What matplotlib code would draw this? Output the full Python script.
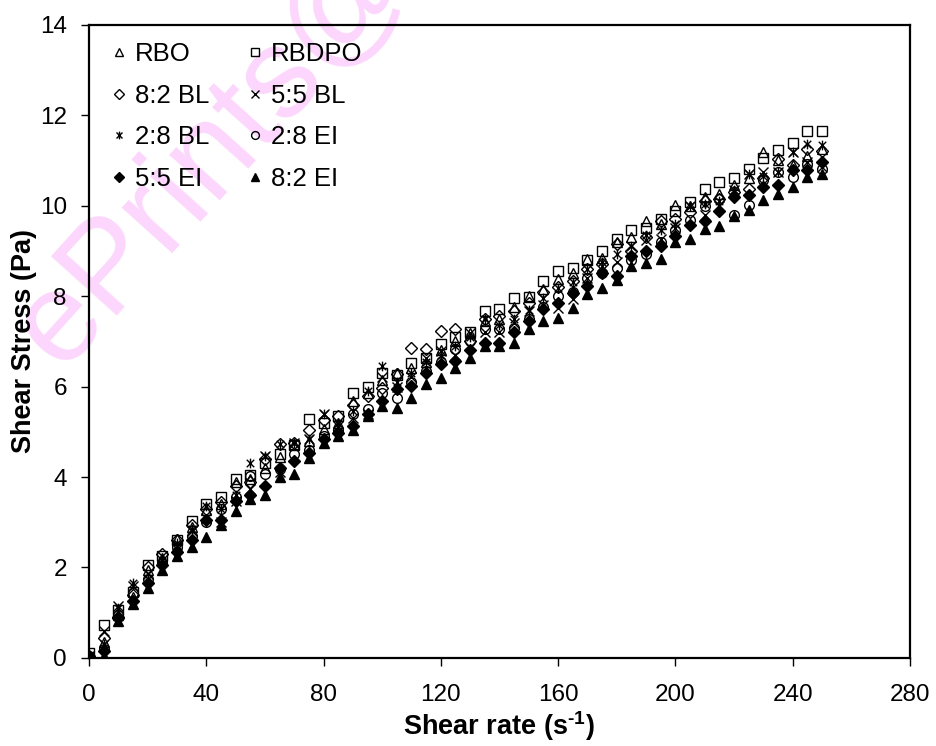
import matplotlib
matplotlib.use('Agg')
import matplotlib.pyplot as plt
from matplotlib.path import Path

plt.rcParams['font.family'] = ['Liberation Sans', 'DejaVu Sans']
plt.rcParams['mathtext.fontset'] = 'custom'
plt.rcParams['mathtext.rm'] = 'Liberation Sans:bold'
plt.rcParams['mathtext.bf'] = 'Liberation Sans:bold'

# shear rate (s^-1)
rate = list(range(0, 255, 5))

# shear stress (Pa)
rbo = [0.05, 0.35, 0.95, 1.35, 1.95, 2.2, 2.64, 2.9, 3.26, 3.4, 3.88, 3.95, 4.2, 4.45, 4.72, 4.8, 5.07,
       5.2, 5.68, 5.85, 6.15, 6.3, 6.4, 6.55, 6.8, 7.0, 7.18, 7.45, 7.5, 7.75, 8.0, 8.15, 8.37, 8.5,
       8.82, 8.85, 9.2, 9.3, 9.65, 9.6, 10.02, 10.0, 10.2, 10.26, 10.45, 10.6, 11.19, 11.0, 10.9, 11.1, 11.25]
rbdpo = [0.1, 0.73, 1.05, 1.45, 2.05, 2.25, 2.6, 3.02, 3.4, 3.55, 3.95, 4.05, 4.3, 4.5, 4.7, 5.28, 5.2,
         5.35, 5.86, 6.0, 6.3, 6.25, 6.52, 6.63, 6.94, 7.1, 7.2, 7.67, 7.72, 7.95, 7.98, 8.33, 8.55, 8.62,
         8.8, 8.99, 9.27, 9.47, 9.5, 9.7, 9.87, 10.09, 10.37, 10.53, 10.6, 10.81, 11.06, 11.23, 11.39, 11.65, 11.65]
bl_82 = [0.05, 0.45, 0.9, 1.4, 2.0, 2.3, 2.6, 2.95, 3.3, 3.45, 3.8, 3.9, 4.4, 4.73, 4.75, 5.05, 5.25,
         5.35, 5.6, 5.8, 5.97, 6.28, 6.85, 6.83, 7.22, 7.27, 7.0, 7.49, 7.56, 7.67, 7.84, 8.1, 8.2, 8.33,
         8.6, 8.7, 9.14, 9.0, 9.3, 9.65, 9.7, 9.85, 10.1, 10.15, 10.3, 10.37, 10.6, 11.04, 10.9, 11.26, 11.2]
bl_55 = [0.05, 0.6, 1.15, 1.6, 1.85, 2.25, 2.5, 2.8, 3.1, 3.0, 3.48, 3.74, 4.47, 4.1, 4.76, 4.85, 5.4,
         5.13, 5.3, 5.4, 6.2, 6.0, 6.2, 6.63, 6.78, 6.7, 7.18, 7.2, 7.2, 7.4, 7.67, 7.8, 7.73, 7.93,
         8.4, 8.66, 8.75, 9.1, 9.25, 9.27, 9.5, 9.98, 9.8, 10.0, 10.35, 10.7, 10.74, 10.74, 11.19, 10.97, 10.85]
bl_28 = [0.05, 0.3, 1.1, 1.65, 1.75, 2.15, 2.55, 2.85, 3.35, 3.3, 3.6, 4.3, 4.47, 4.73, 4.76, 4.85, 5.4,
         5.2, 5.45, 5.9, 6.45, 6.1, 6.3, 6.55, 6.7, 6.9, 7.1, 7.49, 7.35, 7.5, 7.7, 7.95, 8.17, 8.3,
         8.59, 8.75, 8.92, 9.1, 9.35, 9.45, 9.6, 9.98, 10.04, 10.1, 10.35, 10.7, 10.65, 10.74, 11.19, 11.37, 11.35]
ei_28 = [0.05, 0.2, 0.95, 1.43, 1.75, 2.1, 2.45, 2.7, 3.0, 3.3, 3.55, 4.03, 4.07, 4.18, 4.51, 4.6, 4.9,
         5.05, 5.4, 5.5, 5.85, 5.75, 6.1, 6.35, 6.55, 6.83, 7.0, 7.27, 7.27, 7.3, 7.5, 7.75, 8.0, 8.1,
         8.39, 8.5, 8.61, 8.8, 8.92, 9.2, 9.45, 9.69, 9.98, 10.15, 9.8, 10.02, 10.57, 10.74, 10.64, 10.93, 10.81]
ei_55 = [0.03, 0.15, 0.88, 1.25, 1.65, 2.05, 2.35, 2.6, 3.04, 3.04, 3.48, 3.6, 3.81, 4.2, 4.36, 4.54, 4.85,
         4.98, 5.13, 5.4, 5.68, 5.95, 6.01, 6.3, 6.5, 6.56, 6.8, 6.96, 6.96, 7.2, 7.44, 7.71, 7.85, 8.06,
         8.22, 8.5, 8.44, 8.88, 9.0, 9.1, 9.32, 9.58, 9.65, 9.87, 10.2, 10.24, 10.42, 10.46, 10.79, 10.79, 10.97]
ei_82 = [0.02, 0.05, 0.82, 1.2, 1.55, 1.95, 2.25, 2.45, 2.67, 2.95, 3.25, 3.52, 3.6, 4.0, 4.07, 4.43, 4.75,
         4.9, 5.05, 5.35, 5.57, 5.53, 5.75, 6.06, 6.19, 6.4, 6.63, 6.9, 6.9, 6.96, 7.27, 7.44, 7.51, 7.73,
         8.04, 8.17, 8.35, 8.66, 8.72, 8.83, 9.2, 9.27, 9.49, 9.54, 9.76, 9.91, 10.13, 10.26, 10.42, 10.64, 10.7]

# excel style asterisk: x with a vertical bar
star = Path([(-1, -1), (1, 1), (-1, 1), (1, -1), (0, -1.3), (0, 1.3)],
            [Path.MOVETO, Path.LINETO] * 3)

fig = plt.figure(figsize=(9.37, 7.46), dpi=100)
# watermark of the source page
fig.text(0.227, 0.795, 'ePrints@', rotation=48, fontsize=92, color='#fcd6fc',
         ha='center', va='center', zorder=-5)
ax = fig.add_axes([0.095, 0.118, 0.876, 0.849])
ax.patch.set_alpha(0)

ms = 7
hollow = dict(ls='none', mfc='none', mec='black', mew=1, ms=ms)
filled = dict(ls='none', mfc='black', mec='black', mew=1, ms=ms)

h_rbo, = ax.plot(rate, rbo, marker='^', label='RBO', **hollow)
h_rbdpo, = ax.plot(rate, rbdpo, marker='s', label='RBDPO', **hollow)
h_82bl, = ax.plot(rate, bl_82, marker='D', label='8:2 BL', ls='none', mfc='none', mec='black', mew=1, ms=6)
h_55bl, = ax.plot(rate, bl_55, marker='x', label='5:5 BL', **hollow)
h_28bl, = ax.plot(rate, bl_28, marker=star, label='2:8 BL', **hollow)
h_28ei, = ax.plot(rate, ei_28, marker='o', label='2:8 EI', **hollow)
h_55ei, = ax.plot(rate, ei_55, marker='D', label='5:5 EI', ls='none', mfc='black', mec='black', ms=6)
h_82ei, = ax.plot(rate, ei_82, marker='^', label='8:2 EI', **filled)

ax.set_xlim(0, 280)
ax.set_ylim(0, 14)
ax.set_xticks(range(0, 281, 40))
ax.set_yticks(range(0, 15, 2))
ax.tick_params(direction='out', length=6, width=1, labelsize=17.5, pad=13)
ax.tick_params(axis='y', pad=10)
for s in ax.spines.values():
    s.set_linewidth(1.6)

ax.set_xlabel(r'Shear rate (s$^{\text{-1}}$)', fontsize=19.5, fontweight='bold', labelpad=2)
ax.set_ylabel('Shear Stress (Pa)', fontsize=19.5, fontweight='bold', labelpad=2)

handles = [h_rbo, h_82bl, h_28bl, h_55ei, h_rbdpo, h_55bl, h_28ei, h_82ei]
ax.legend(handles=handles, ncol=2, loc='upper left', bbox_to_anchor=(0.012, 0.997),
          frameon=False, fontsize=18.5, markerscale=0.8, handlelength=0.4,
          handletextpad=0.4, columnspacing=1.6, labelspacing=0.69,
          borderaxespad=0.3, borderpad=0.3)

fig.savefig('out.png', dpi=100)
